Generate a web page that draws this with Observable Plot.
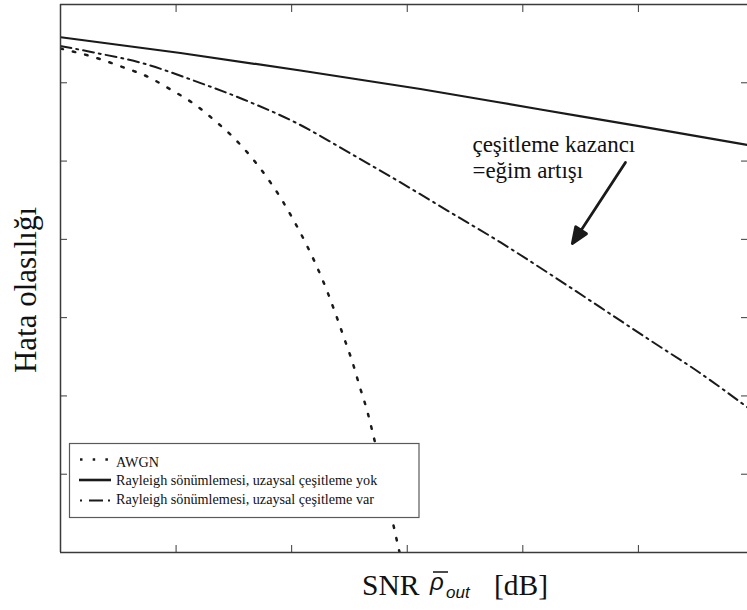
<!DOCTYPE html>
<html>
<head>
<meta charset="utf-8">
<script src="https://cdn.jsdelivr.net/npm/d3@7"></script>
<script src="https://cdn.jsdelivr.net/npm/@observablehq/plot@0.6"></script>
<style>
  html, body { margin: 0; padding: 0; background: #fff; }
  #chart { position: relative; width: 747px; height: 610px; overflow: hidden; }
</style>
</head>
<body>
<div id="chart"></div>
<script>
// ---- data ----
const xTicks = [5, 10, 15, 20, 25];
const yTicks = [1e-1, 1e-2, 1e-3, 1e-4, 1e-5, 1e-6];

// AWGN
const awgnSnr = [0, 1.64, 2.73, 3.76, 4.76, 5.75, 6.62, 7.48, 8.22, 8.90, 9.52, 10.08, 10.60, 11.08, 11.51, 11.90, 12.27, 12.63, 12.95, 13.27, 13.55, 14.39, 14.64, 14.75];
const awgnPe  = [0.274, 0.204, 0.157, 0.120, 0.0821, 0.0544, 0.0340, 0.0200, 0.01155, 0.00636, 0.00340, 0.00176, 9.05e-4, 4.55e-4, 2.27e-4, 1.12e-4, 5.47e-5, 2.70e-5, 1.30e-5, 6.39e-6, 2.99e-6, 2.33e-7, 1.09e-7, 7.9e-8];

// Rayleigh, no spatial diversity
const rayNoSnr = [0, 5.19, 10.38, 15.57, 20.77, 25.09, 29.72];
const rayNoPe  = [0.382, 0.240, 0.1436, 0.0833, 0.0456, 0.0277, 0.01605];

// Rayleigh, with spatial diversity
const rayDivSnr = [0, 1.43, 3.59, 5.75, 7.92, 10.25, 12.55, 14.71, 16.87, 19.04, 21.20, 23.36, 25.52, 27.69, 29.72];
const rayDivPe  = [0.295, 0.244, 0.1764, 0.1070, 0.0612, 0.0302, 0.01251, 0.00533, 0.00221, 9.13e-4, 3.56e-4, 1.35e-4, 5.11e-5, 1.94e-5, 7.13e-6];

// annotation
const noteLines = ["çeşitleme kazancı", "=eğim artışı"];
const noteX = [17.82, 17.82];
const noteY = [0.01288, 0.00600];
const arrowStart = {x: 24.44, y: 0.0096};

const legendLabels = ["AWGN", "Rayleigh sönümlemesi, uzaysal çeşitleme yok", "Rayleigh sönümlemesi, uzaysal çeşitleme var"];

// ---- tables ----
const awgn = awgnSnr.map((x, i) => ({x, y: awgnPe[i]}));
const rayNo = rayNoSnr.map((x, i) => ({x, y: rayNoPe[i]}));
const rayDiv = rayDivSnr.map((x, i) => ({x, y: rayDivPe[i]}));
const notes = noteLines.map((t, i) => ({t, x: noteX[i], y: noteY[i]}));

const ink = "#1a1a1a";
const frameColor = "#3a3a3a";
const serif = "'Liberation Serif', 'Times New Roman', serif";
const sans = "'Liberation Sans', Arial, sans-serif";

const dashDot = "11,5,2,5";
const dotted = "2.5,10.2";

// filled arrow shape for vector mark
const filledArrow = {
  draw(context, l, r) {
    const h = 16, w = 6.5;
    context.moveTo(0, 0);
    context.lineTo(0, -l + h - 2);
    context.moveTo(0, -l);
    context.lineTo(-w, -l + h);
    context.lineTo(w, -l + h);
    context.closePath();
  }
};

const plot = Plot.plot({
  width: 747,
  height: 610,
  marginLeft: 60,
  marginRight: 0,
  marginTop: 4,
  marginBottom: 58,
  style: {background: "white", fontFamily: serif, overflow: "visible"},
  x: {domain: [0, 29.72]},
  y: {type: "log", domain: [1e-7, 1]},
  marks: [
    Plot.line(awgn, {x: "x", y: "y", clip: true, stroke: ink, strokeWidth: 2.5, strokeDasharray: dotted, curve: "monotone-x"}),
    Plot.line(rayNo, {x: "x", y: "y", clip: true, stroke: ink, strokeWidth: 2.2, curve: "monotone-x"}),
    Plot.line(rayDiv, {x: "x", y: "y", clip: true, stroke: ink, strokeWidth: 2, strokeDasharray: dashDot, curve: "monotone-x"}),
    Plot.ruleX([0], {stroke: frameColor, strokeWidth: 1.5}),
    Plot.ruleY([1, 1e-7], {stroke: frameColor, strokeWidth: 1.5}),
    Plot.axisX(xTicks, {anchor: "bottom", tickSize: 7, dy: -7, tickFormat: () => "", label: null, stroke: frameColor}),
    Plot.axisX(xTicks, {anchor: "top", tickSize: 7, dy: 7, tickFormat: () => "", label: null, stroke: frameColor}),
    Plot.axisY(yTicks, {anchor: "left", tickSize: 7, dx: 7, tickFormat: () => "", label: null, stroke: frameColor}),
    Plot.axisY(yTicks, {anchor: "right", tickSize: 7, dx: -7, tickFormat: () => "", label: null, stroke: frameColor}),
    Plot.text(notes, {x: "x", y: "y", text: "t", textAnchor: "start", lineAnchor: "bottom", fontSize: 23, fill: "#111", fontFamily: serif}),
    Plot.vector([arrowStart], {x: "x", y: "y", length: 97, rotate: 213.2, anchor: "start", shape: filledArrow, stroke: ink, fill: ink, strokeWidth: 2.8})
  ]
});

document.getElementById("chart").appendChild(plot);

// ---- legend, axis titles (layout, added to the same svg) ----
const svg = d3.select(plot);
const lg = svg.append("g").attr("text-anchor", "start");
lg.append("rect").attr("x", 69.5).attr("y", 443.5).attr("width", 349.5).attr("height", 74)
  .attr("fill", "white").attr("stroke", "#5a5a5a").attr("stroke-width", 1.2);
const legendStyles = [
  {dash: dotted, w: 2.5, x1: 80, x2: 111},
  {dash: null, w: 2.6, x1: 79, x2: 111},
  {dash: "2,7,14,5,2,99", w: 2, x1: 80, x2: 111}
];
const legendLineY = [459.5, 480, 500.5];
const legendBaseY = [466.5, 485, 504];
legendLabels.forEach((lab, i) => {
  const s = legendStyles[i];
  const ln = lg.append("line").attr("x1", s.x1).attr("x2", s.x2)
    .attr("y1", legendLineY[i]).attr("y2", legendLineY[i])
    .attr("stroke", ink).attr("stroke-width", s.w);
  if (s.dash) ln.attr("stroke-dasharray", s.dash);
  lg.append("text").attr("x", 116).attr("y", legendBaseY[i])
    .style("font-family", serif).style("font-size", "14.2px").style("text-anchor", "start")
    .attr("fill", "#111").text(lab);
});

// y title
svg.append("text")
  .attr("transform", "translate(36,290) rotate(-90)")
  .style("text-anchor", "middle")
  .style("font-family", serif).style("font-size", "31px").attr("fill", "#111")
  .text("Hata olasılığı");

// x title: SNR  ρ̄_out  [dB]
const xt = svg.append("g").attr("fill", "#111").attr("text-anchor", "start");
xt.append("text").attr("x", 362).attr("y", 595).style("font-family", serif).style("font-size", "29.5px").style("text-anchor", "start").text("SNR");
xt.append("text").attr("x", 430).attr("y", 590).style("font-family", sans)
  .style("font-style", "italic").style("font-size", "24px").style("text-anchor", "start").text("ρ");
xt.append("line").attr("x1", 433).attr("x2", 448).attr("y1", 572).attr("y2", 572)
  .attr("stroke", "#111").attr("stroke-width", 1.5);
xt.append("text").attr("x", 446).attr("y", 598).style("font-family", sans)
  .style("font-style", "italic").style("font-size", "17px").style("text-anchor", "start").text("out");
xt.append("text").attr("x", 494).attr("y", 595).style("font-family", serif).style("font-size", "29.5px").style("text-anchor", "start").text("[dB]");
</script>
</body>
</html>
